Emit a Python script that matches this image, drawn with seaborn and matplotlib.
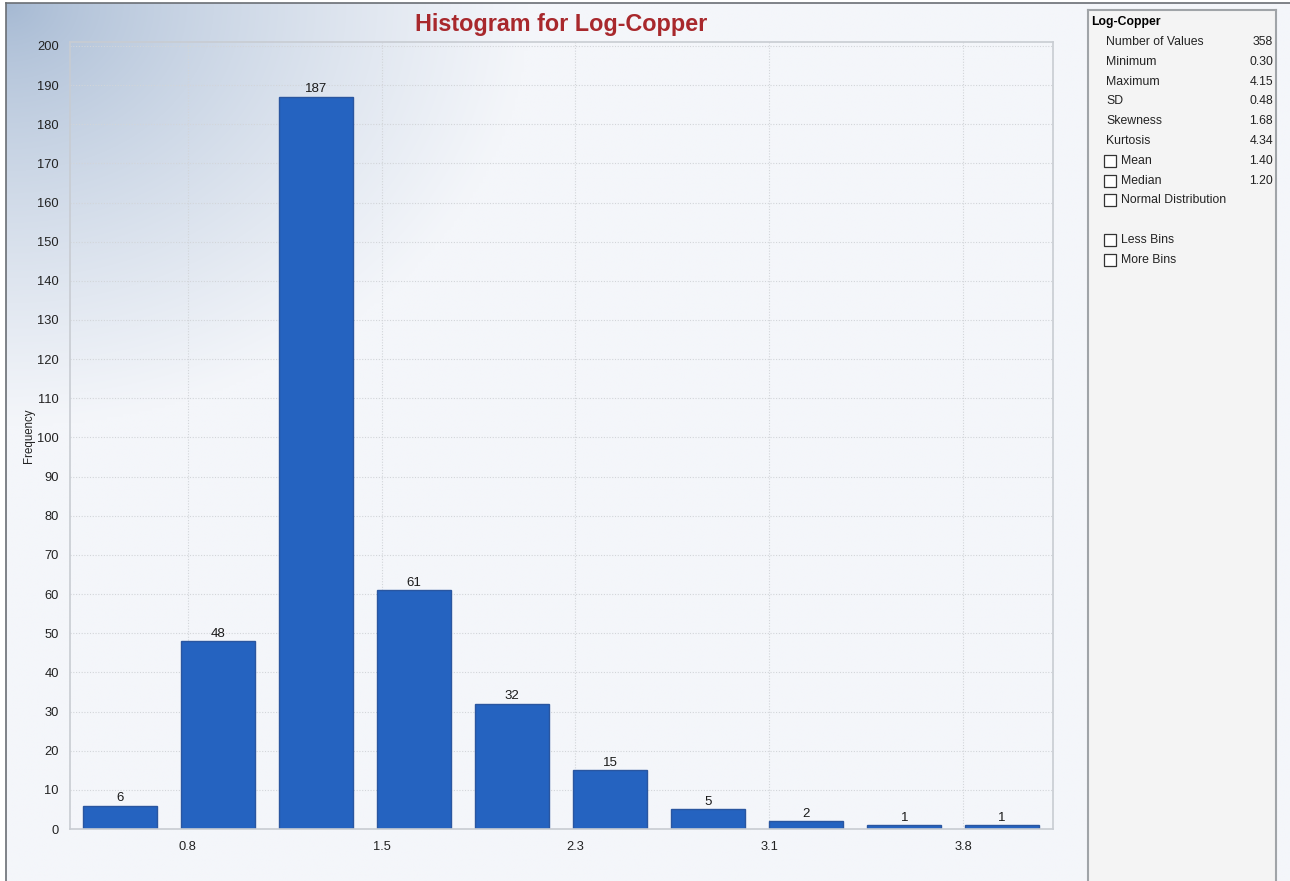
import numpy as np
import pandas as pd
import matplotlib.pyplot as plt
import seaborn as sns
from matplotlib.ticker import FixedLocator, MultipleLocator
from matplotlib.patches import Rectangle

# Data
bin_centers = [0.498, 0.885, 1.273, 1.660, 2.048, 2.435, 2.823, 3.210, 3.598, 3.985]
counts = [6, 48, 187, 61, 32, 15, 5, 2, 1, 1]
tick_pos = [0.766, 1.532, 2.298, 3.064, 3.830]
tick_labels = ['0.8', '1.5', '2.3', '3.1', '3.8']

stat_names = ['Number of Values', 'Minimum', 'Maximum', 'SD', 'Skewness', 'Kurtosis']
stat_values = ['358', '0.30', '4.15', '0.48', '1.68', '4.34']
check_names = ['Mean', 'Median', 'Normal Distribution']
check_values = ['1.40', '1.20', '']
bin_options = ['Less Bins', 'More Bins']

df = pd.DataFrame({'center': bin_centers, 'count': counts})

sns.set_style('white')
plt.rcParams['font.family'] = ['Liberation Sans', 'DejaVu Sans']

W, H = 1290, 881
fig = plt.figure(figsize=(W / 100, H / 100), dpi=100)
fig.patch.set_facecolor('white')

# gradient backdrop behind the chart
bg = fig.add_axes([6 / W, 0, (1290 - 6) / W, (H - 3) / H], zorder=0)
yy, xx = np.mgrid[0:300, 0:400]
d = np.sqrt((xx / 400 * 1284 / 520) ** 2 + (yy / 300 * 878 / 420) ** 2)
s = np.clip(d, 0, 1) ** 0.75
c0 = np.array([164, 184, 210]) / 255
c1 = np.array([244, 246, 250]) / 255
img = c0[None, None, :] * (1 - s[..., None]) + c1[None, None, :] * s[..., None]
bg.imshow(img, aspect='auto', extent=[0, 1, 0, 1], interpolation='bilinear')
bg.set_xlim(0, 1)
bg.set_ylim(0, 1)
bg.set_xticks([])
bg.set_yticks([])
for side in ['right', 'bottom']:
    bg.spines[side].set_visible(False)
for side in ['top', 'left']:
    bg.spines[side].set_color('#6a6e74')
    bg.spines[side].set_linewidth(1.2)

# main histogram axes
ax = fig.add_axes([70 / W, 1 - 829 / H, (1053 - 70) / W, (829 - 42) / H], zorder=2)
ax.set_facecolor('none')
sns.barplot(data=df, x='center', y='count', native_scale=True, width=0.76,
            color='#2563c0', edgecolor='#2a56a0', linewidth=1.0, saturation=1,
            ax=ax)
for cont in ax.containers:
    ax.bar_label(cont, padding=1, fontsize=9.5, color='#1a1a1a')

ax.set_xlim(0.30, 4.186)
ax.set_ylim(0, 201)
ax.xaxis.set_major_locator(FixedLocator(tick_pos))
ax.set_xticklabels(tick_labels)
ax.xaxis.set_minor_locator(MultipleLocator(0.1))
ax.yaxis.set_major_locator(MultipleLocator(10))
ax.yaxis.set_minor_locator(MultipleLocator(2))
ax.tick_params(axis='both', which='major', labelsize=9.3, labelcolor='#222222',
               color='#c8ccd2', length=4, width=0.8)
ax.tick_params(axis='both', which='minor', color='#c8ccd2', length=3, width=0.8)
ax.tick_params(axis='x', which='major', pad=5)
ax.tick_params(axis='y', which='major', pad=4)
ax.grid(True, which='major', color='#d2d5d9', linestyle=(0, (1, 1.5)), linewidth=0.8)
ax.set_axisbelow(True)
for sp in ax.spines.values():
    sp.set_color('#c8ccd2')
    sp.set_linewidth(1.2)
ax.set_xlabel('')
ax.set_ylabel('Frequency', fontsize=8.3, color='#222222')
ax.yaxis.set_label_coords(-0.036, 0.5)

fig.text((70 + 1053) / 2 / W, 1 - 24 / H, 'Histogram for Log-Copper',
         ha='center', va='center', fontsize=16.8, fontweight='bold', color='#a8282c')

# statistics panel on the right
px0, px1 = 1088, 1276
panel = fig.add_axes([px0 / W, 0, (px1 - px0) / W, (H - 10) / H], zorder=3)
panel.set_facecolor('#f4f4f4')
panel.set_xticks([])
panel.set_yticks([])
for sp in panel.spines.values():
    sp.set_color('#a0a4a8')
    sp.set_linewidth(1.5)
panel.spines['bottom'].set_visible(False)


def fx(x):
    return (x - px0) / (px1 - px0)


def fy(y):
    return 1 - (y - 10) / (H - 10)


fs = 8.8
panel.text(fx(1091), fy(22), 'Log-Copper', fontsize=fs, fontweight='bold',
           color='black', va='center', ha='left')
row_y = [42, 62, 82, 101, 121, 141]
for name, val, y in zip(stat_names, stat_values, row_y):
    panel.text(fx(1106), fy(y), name, fontsize=fs, color='#222222', va='center')
    panel.text(fx(1273), fy(y), val, fontsize=fs, color='#222222', va='center', ha='right')

box_rows = [(n, v, y) for n, v, y in zip(check_names, check_values, [161, 181, 200])]
box_rows += [(n, '', y) for n, y in zip(bin_options, [240, 260])]
for name, val, y in box_rows:
    panel.add_patch(Rectangle((fx(1104), fy(y + 6)), fx(1116) - fx(1104), fy(y - 6) - fy(y + 6),
                              facecolor='white', edgecolor='#333333', linewidth=0.9))
    panel.text(fx(1121), fy(y), name, fontsize=fs, color='#222222', va='center')
    if val:
        panel.text(fx(1273), fy(y), val, fontsize=fs, color='#222222', va='center', ha='right')

fig.savefig('out.png', dpi=100)
